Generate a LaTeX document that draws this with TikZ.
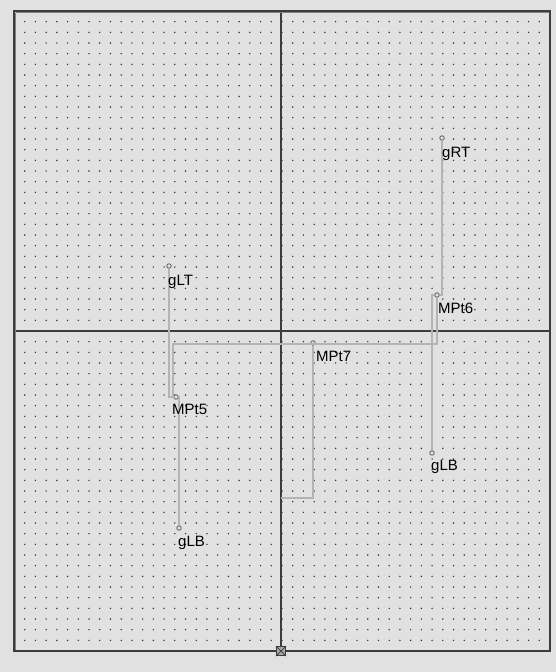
\documentclass[tikz,border=0pt]{standalone}
\usepackage{fontspec}
\setmainfont{Liberation Sans}
\usepackage{xcolor}
\definecolor{cvback}{RGB}{225,225,225}
\definecolor{cvdot}{RGB}{50,50,50}
\definecolor{cvaxis}{RGB}{60,60,60}
\definecolor{cvwire}{RGB}{180,180,180}
\definecolor{cvpin}{RGB}{90,90,90}
\usepackage{tikz}
\usetikzlibrary{arrows.meta, positioning, calc}

\begin{document}
\begin{tikzpicture}[
  x=1pt, y=-1pt,
  pin/.style={circle, draw=cvpin, line width=0.8pt, fill=cvback, inner sep=0pt, minimum size=4.5pt},
  tag/.style={font=\fontsize{15}{17}\selectfont, text=black, inner sep=0pt, anchor=base west},
  wire/.style={cvwire, line width=1.6pt},
  axis/.style={cvaxis, line width=1.4pt}
]

% --- Canvas ---
\fill[cvback] (0,0) rectangle (556,672);
\useasboundingbox (0,0) rectangle (556,672);

% Grid dots
\foreach \i in {1,...,49}
  \foreach \j in {1,...,59}
    \fill[cvdot] ({14+\i*10.72},{11+\j*10.667}) circle (0.8);

% Axes through the centre
\draw[axis] (281,11) -- (281,651);
\draw[axis] (14,331) -- (550,331);

% Frame
\draw[cvaxis, line width=1.6pt] (14,11) rectangle (550,651);
\draw[gray, line width=0.8pt] (15.5,12.5) -- (548.5,12.5);
\draw[gray, line width=0.8pt] (15.5,12.5) -- (15.5,649.5);

% --- Points ---
\node[pin] (gRT)  at (442,138) {};
\node[pin] (MPt6) at (437,295) {};
\node[pin] (gLT)  at (169,266) {};
\node[pin] (MPt7) at (313,343) {};
\node[pin] (MPt5) at (176,397) {};
\node[pin] (gLBr) at (432,453) {};
\node[pin] (gLBl) at (179,528) {};

\coordinate (busL) at (173,344);
\coordinate (jog)  at (281,498);

% --- Wires ---
\draw[wire] (gRT) |- (MPt6);
\draw[wire] (MPt6) -| (gLBr);
\draw[wire] (MPt6) -- (MPt6 |- busL) -- (busL) |- (MPt5);
\draw[wire] (gLT) |- (MPt5);
\draw[wire] (MPt5) -| (gLBl);
\draw[wire] (MPt7) |- (jog);

% --- Labels ---
\node[tag] at (442,157) {gRT};
\node[tag] at (438,313) {MPt6};
\node[tag] at (168,285) {gLT};
\node[tag] at (316,361) {MPt7};
\node[tag] at (172,414) {MPt5};
\node[tag] at (431,470) {gLB};
\node[tag] at (178,546) {gLB};

% Origin marker
\node[draw=cvaxis, fill=gray!70, line width=1.2pt, minimum size=9pt, inner sep=0pt]
      (origin) at (281,651) {};
\draw[cvaxis, line width=0.7pt] (origin.north west) -- (origin.south east);
\draw[cvaxis, line width=0.7pt] (origin.north east) -- (origin.south west);

\end{tikzpicture}
\end{document}
